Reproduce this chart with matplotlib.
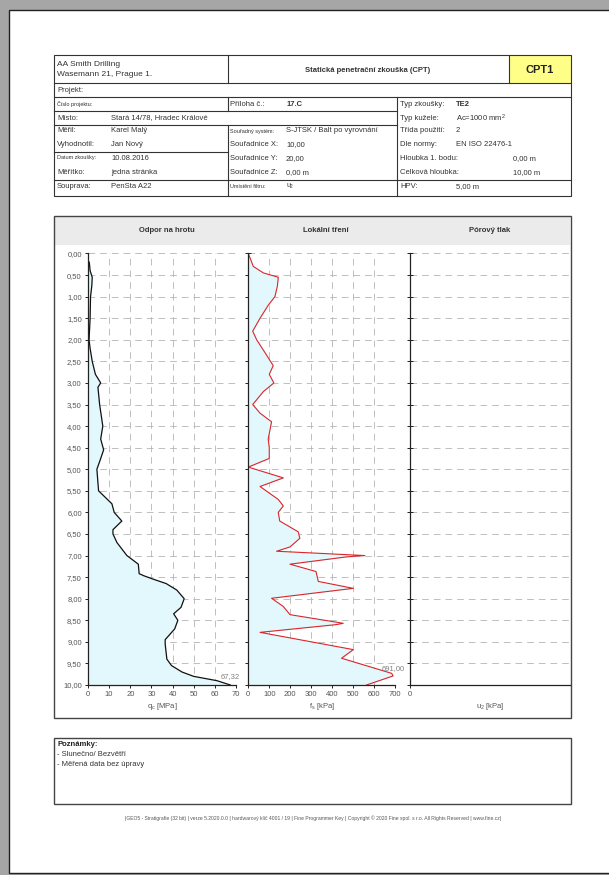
import matplotlib
matplotlib.use('Agg')
import matplotlib.pyplot as plt
from matplotlib.lines import Line2D
from matplotlib.patches import Rectangle

plt.rcParams['font.family'] = ['Liberation Sans', 'DejaVu Sans']
plt.rcParams['mathtext.fontset'] = 'custom'
plt.rcParams['mathtext.rm'] = 'Liberation Sans'
plt.rcParams['mathtext.it'] = 'Liberation Sans'

# cone resistance qc [MPa] vs depth [m]
depth_qc = [0.20, 0.40, 0.55, 0.75, 1.00, 1.50, 2.00, 2.20, 2.50, 2.80, 3.00, 3.10,
            3.50, 4.00, 4.30, 4.55, 4.78, 5.00, 5.50, 5.80, 6.00, 6.20, 6.40, 6.50,
            6.70, 7.00, 7.20, 7.42, 7.47, 7.55, 7.65, 7.80, 8.00, 8.20, 8.35, 8.50,
            8.70, 8.95, 9.05, 9.40, 9.55, 9.70, 9.80, 9.90, 10.00]
qc = [0.6, 1.0, 2.0, 1.8, 1.2, 1.0, 0.5, 1.0, 2.0, 3.5, 6.0, 4.7,
      5.5, 7.0, 6.0, 7.4, 5.8, 4.2, 5.0, 11.3, 12.4, 16.0, 11.8, 11.8,
      13.7, 18.4, 23.8, 24.2, 26.5, 31.0, 37.0, 42.0, 45.5, 44.0, 40.5, 42.5,
      41.0, 36.5, 36.5, 37.3, 39.5, 44.5, 50.0, 61.0, 67.32]

# sleeve friction fs [kPa] vs depth [m]
depth_fs = [0.00, 0.10, 0.30, 0.45, 0.55, 0.75, 1.00, 1.20, 1.50, 1.80, 2.00, 2.30,
            2.60, 2.80, 3.00, 3.20, 3.50, 3.70, 3.90, 4.10, 4.30, 4.50, 4.75, 4.95,
            5.20, 5.40, 5.70, 5.85, 6.00, 6.20, 6.45, 6.60, 6.80, 6.90, 7.00, 7.03,
            7.20, 7.37, 7.60, 7.76, 7.99, 8.18, 8.37, 8.57, 8.60, 8.78, 9.18, 9.38,
            9.73, 9.79, 10.00]
fs = [0, 8, 24, 72, 143, 139, 127, 95, 56, 21, 40, 80,
      119, 100, 122, 72, 21, 56, 111, 103, 95, 100, 100, 0,
      167, 56, 143, 167, 143, 150, 238, 246, 199, 135, 556, 470,
      199, 323, 334, 501, 111, 167, 199, 453, 421, 56, 501, 445,
      684, 691, 564]

depth_ticks = [i * 0.5 for i in range(21)]
qc_ticks = [0, 10, 20, 30, 40, 50, 60, 70]
fs_ticks = [0, 100, 200, 300, 400, 500, 600, 700]

W, H = 609, 875
fig = plt.figure(figsize=(W / 100, H / 100), dpi=100)
fig.patch.set_facecolor('#a6a6a6')

def fx(x):
    return x / W

def fy(y):
    return 1 - y / H

def box(x0, y0, x1, y1, fc='none', ec='#333333', lw=0.8, z=1):
    fig.add_artist(Rectangle((fx(x0), fy(y1)), fx(x1) - fx(x0), fy(y0) - fy(y1),
                             transform=fig.transFigure, fc=fc, ec=ec, lw=lw, zorder=z))

def hline(y, x0, x1):
    fig.add_artist(Line2D([fx(x0), fx(x1)], [fy(y), fy(y)], transform=fig.transFigure,
                          color='#333333', lw=0.8))

def vline(x, y0, y1):
    fig.add_artist(Line2D([fx(x), fx(x)], [fy(y0), fy(y1)], transform=fig.transFigure,
                          color='#333333', lw=0.8))

def txt(x, y, s, size=5.5, ha='left', **kw):
    kw.setdefault('color', '#333333')
    fig.text(fx(x), fy(y), s, fontsize=size, ha=ha, va='center', **kw)

# page
box(9, 10, 640, 873, fc='white', ec='#222222', lw=1.0, z=-10)

# header table
box(509, 55, 571, 83, fc='#ffff88', ec='none')
box(54, 55, 571, 196)
hline(83, 54, 571)
hline(97, 54, 571)
hline(111, 54, 397)
hline(125, 54, 397)
hline(152, 54, 228)
hline(180, 54, 571)
vline(228, 55, 83)
vline(228, 97, 111)
vline(228, 125, 196)
vline(397, 97, 196)
vline(509, 55, 83)

txt(57, 64, 'AA Smith Drilling', 6)
txt(57, 74, 'Wasemann 21, Prague 1.', 6)
txt(368, 70, 'Statická penetrační zkouška (CPT)', 5.5, ha='center', weight='bold')
txt(540, 70, 'CPT1', 8, ha='center', weight='bold', color='#222222')
txt(57, 90, 'Projekt:')

txt(57, 104, 'Číslo projektu:', 4)
txt(230, 104, 'Příloha č.:')
txt(287, 104, '17.C', weight='bold')
txt(57, 118, 'Místo:')
txt(111, 118, 'Stará 14/78, Hradec Králové')
txt(57, 131, 'Měřil:')
txt(111, 131, 'Karel Malý')
txt(57, 145, 'Vyhodnotil:')
txt(111, 145, 'Jan Nový')
txt(57, 158, 'Datum zkoušky:', 4)
txt(111, 158, '10.08.2016')
txt(57, 172, 'Měřítko:')
txt(111, 172, 'jedna stránka')
txt(57, 187, 'Souprava:')
txt(111, 187, 'PenSta A22')

txt(230, 131, 'Souřadný systém:', 4)
txt(286, 131, 'S-JTSK / Balt po vyrovnání')
txt(230, 145, 'Souřadnice X:')
txt(286, 145, '10,00')
txt(230, 159, 'Souřadnice Y:')
txt(286, 159, '20,00')
txt(230, 173, 'Souřadnice Z:')
txt(286, 173, '0,00 m')
txt(230, 186, 'Umístění filtru:', 4)
txt(286, 186, 'u$_2$', 5)

txt(400, 104, 'Typ zkoušky:')
txt(456, 104, 'TE2', weight='bold')
txt(400, 118, 'Typ kužele:')
txt(456, 118, 'Ac=1000 mm$^2$')
txt(400, 131, 'Třída použití:')
txt(456, 131, '2')
txt(400, 145, 'Dle normy:')
txt(456, 145, 'EN ISO 22476-1')
txt(400, 159, 'Hloubka 1. bodu:')
txt(513, 159, '0,00 m')
txt(400, 173, 'Celková hloubka:')
txt(513, 173, '10,00 m')
txt(400, 187, 'HPV:')
txt(456, 187, '5,00 m')

# chart frame
box(54, 216, 571, 718, ec='#444444', lw=1.0)
box(55, 217, 570, 245, fc='#ebebeb', ec='none', z=-5)
txt(167, 231, 'Odpor na hrotu', 5.5, ha='center', weight='bold')
txt(326, 231, 'Lokální tření', 5.5, ha='center', weight='bold')
txt(490, 231, 'Pórový tlak', 5.5, ha='center', weight='bold')

y_top, y_bot = 253.5, 685.0

def panel(x0, x1):
    ax = fig.add_axes([fx(x0), fy(y_bot), fx(x1) - fx(x0), (y_bot - y_top) / H])
    ax.set_zorder(2)
    ax.set_facecolor('none')
    ax.set_ylim(10, 0)
    ax.set_yticks(depth_ticks)
    for s in ('top', 'right'):
        ax.spines[s].set_visible(False)
    for s in ('left', 'bottom'):
        ax.spines[s].set_color('#222222')
        ax.spines[s].set_linewidth(0.9)
    ax.tick_params(labelsize=5.5, labelcolor='#555555', length=2.5, width=0.7,
                   color='#222222', pad=2)
    ax.grid(True, ls=(0, (8, 6)), color='#b4b4b4', lw=0.6)
    ax.set_axisbelow(True)
    return ax

ax1 = panel(88, 236)
ax1.set_xlim(0, 70)
ax1.set_xticks(qc_ticks)
ax1.set_yticklabels([f'{d:.2f}'.replace('.', ',') for d in depth_ticks])
ax1.fill_betweenx(depth_qc, 0, qc, color='#e2f8fc', lw=0)
ax1.plot(qc, depth_qc, color='#111111', lw=0.9)
ax1.text(qc[-1], depth_qc[-1] - 0.12, f'{qc[-1]:.2f}'.replace('.', ','),
         fontsize=5.5, color='#808080', ha='center', va='bottom', clip_on=False)
ax1.set_xlabel(r'q$_\mathrm{c}$ [MPa]', fontsize=5.5, color='#555555', labelpad=2)

ax2 = panel(248.3, 395)
ax2.set_xlim(0, 700)
ax2.set_xticks(fs_ticks)
ax2.tick_params(axis='y', direction='inout', labelleft=False, length=4)
ax2.fill_betweenx(depth_fs, 0, fs, color='#e2f8fc', lw=0)
ax2.plot(fs, depth_fs, color='#d9262b', lw=0.8)
i_max = fs.index(max(fs))
ax2.text(fs[i_max], depth_fs[i_max] - 0.1, f'{fs[i_max]:.2f}'.replace('.', ','),
         fontsize=5.5, color='#808080', ha='center', va='bottom', clip_on=False)
ax2.set_xlabel(r'f$_\mathrm{s}$ [kPa]', fontsize=5.5, color='#555555', labelpad=2)

ax3 = panel(409.5, 570)
ax3.set_xlim(0, 100)
ax3.set_xticks([0])
ax3.grid(False)
ax3.grid(True, axis='y', ls=(0, (8, 6)), color='#b4b4b4', lw=0.6)
ax3.tick_params(axis='y', direction='inout', labelleft=False, length=4)
ax3.set_xlabel(r'u$_2$ [kPa]', fontsize=5.5, color='#555555', labelpad=2)

# notes
box(54, 738, 571, 804, ec='#444444', lw=1.0)
txt(57, 744, 'Poznámky:', 5.5, weight='bold', color='#222222')
txt(57, 754, '- Slunečno/ Bezvětří', 5.5)
txt(57, 765, '- Měřená data bez úpravy', 5.5)

txt(313, 818, '|GEO5 - Stratigrafie (32 bit) | verze 5.2020.0.0 | hardwarový klíč 4001 / 19 | '
    'Fine Programmer Key | Copyright © 2020 Fine spol. s r.o. All Rights Reserved | www.fine.cz|',
    3.6, ha='center', color='#555555')

fig.savefig('out.png', dpi=100, facecolor=fig.get_facecolor())
